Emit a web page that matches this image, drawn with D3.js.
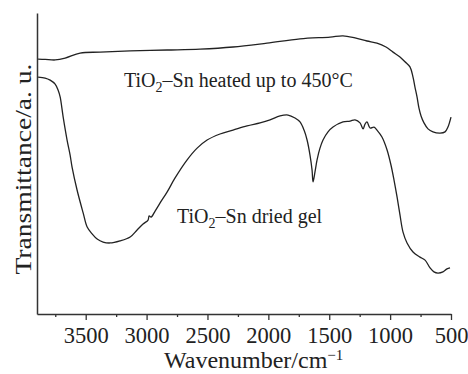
<!DOCTYPE html>
<html><head><meta charset="utf-8">
<script src="https://cdn.jsdelivr.net/npm/d3@7"></script>
<style>
html,body{margin:0;padding:0;background:#fff;}
svg{display:block;}
text{font-family:"Liberation Serif","Times New Roman",serif;fill:#222;}
</style></head>
<body>
<svg id="c" width="468" height="374"></svg>
<script>
// Wavenumber (cm^-1) and transmittance (a.u.)
const heatedWn = [3891,3833,3751,3669,3546,3382,3135,2832,2561,2290,2011,1740,1493,1387,1288,1190,1108,1034,976,919,878,837,812,796,779,763,746,722,689,648,590,549,525,500];
const heatedT  = [84.7,84.6,84.4,85.0,86.7,87.0,87.4,87.7,88.0,88.7,90.0,91.4,92.0,92.4,91.7,90.7,90.0,88.7,87.0,85.4,83.8,82.1,78.7,75.4,72.1,68.4,65.8,63.5,61.5,60.5,60.1,60.5,62.1,65.4];

const gelWn = [3891,3833,3792,3751,3727,3710,3685,3653,3628,3612,3571,3521,3488,3447,3406,3357,3300,3218,3135,3078,3029,2988,2979,2963,2930,2889,2832,2766,2667,2585,2503,2397,2290,2175,2068,1986,1904,1838,1781,1740,1707,1682,1658,1641,1633,1617,1600,1576,1551,1510,1469,1387,1329,1288,1247,1222,1206,1190,1165,1132,1108,1067,1025,993,968,943,919,894,861,812,755,713,672,640,607,566,533,508];
const gelT  = [78.7,78.4,77.7,76.4,74.4,72.1,65.4,57.8,52.8,48.8,41.2,33.6,28.9,26.6,24.9,23.9,23.6,24.3,25.6,27.9,29.9,31.2,32.6,32.2,34.2,36.9,40.5,45.2,51.2,55.1,57.8,59.8,61.1,62.5,63.5,64.5,65.8,66.1,65.1,63.8,61.1,57.8,52.8,47.8,43.9,47.2,51.2,55.1,57.8,60.5,62.1,63.8,64.1,64.5,63.5,61.5,63.1,63.8,61.8,62.1,61.1,58.8,54.5,49.5,44.5,38.9,32.9,27.2,23.6,20.6,18.9,17.9,15.3,14.0,13.6,14.0,15.0,15.3];

const majorTicks = [3500,3000,2500,2000,1500,1000,500];
const minorTicks = [3750,3250,2750,2250,1750,1250,750];
const xTitle = "Wavenumber/cm";
const xTitleSup = "\u22121";
const yTitle = "Transmittance/a. u.";
const label1 = ["TiO", "2", "\u2013Sn heated up to 450\u00b0C"];
const label2 = ["TiO", "2", "\u2013Sn dried gel"];

const svg = d3.select("#c");
const x = d3.scaleLinear().domain([3900, 500]).range([37, 451]);
const y = d3.scaleLinear().domain([0, 100]).range([314, 13]);

// axes
const xAxis = svg.append("g").attr("transform","translate(0,314)")
  .call(d3.axisBottom(x).tickValues(majorTicks).tickFormat(d3.format("d")).tickSize(6).tickSizeOuter(0).tickPadding(7));
xAxis.select(".domain").attr("stroke","#333").attr("stroke-width",1.5);
xAxis.selectAll(".tick line").attr("stroke","#333").attr("stroke-width",1.3);
xAxis.selectAll("text").style("font-family","'Liberation Serif',serif").style("font-size","22.5px").attr("fill","#222");

const xMinor = svg.append("g").attr("transform","translate(0,314)")
  .call(d3.axisBottom(x).tickValues(minorTicks).tickFormat("").tickSize(3).tickSizeOuter(0));
xMinor.select(".domain").remove();
xMinor.selectAll(".tick line").attr("stroke","#333").attr("stroke-width",1.3);

const yAxis = svg.append("g").attr("transform","translate(37,0)")
  .call(d3.axisLeft(y).tickValues([]).tickSizeOuter(0));
yAxis.select(".domain").attr("stroke","#333").attr("stroke-width",1.5);

// curves
const line = d3.line().x(d => x(d[0])).y(d => y(d[1])).curve(d3.curveCatmullRom.alpha(0.5));
svg.append("path").datum(d3.zip(heatedWn, heatedT))
  .attr("d", line).attr("fill","none").attr("stroke","#222").attr("stroke-width",1.3);
svg.append("path").datum(d3.zip(gelWn, gelT))
  .attr("d", line).attr("fill","none").attr("stroke","#222").attr("stroke-width",1.3);

// annotations
function subLabel(px, py, parts){
  const t = svg.append("text").attr("x", px).attr("y", py).style("font-size","20px");
  t.append("tspan").text(parts[0]);
  t.append("tspan").attr("dy", 5).style("font-size","14px").text(parts[1]);
  t.append("tspan").attr("dy", -5).text(parts[2]);
}
subLabel(124, 87, label1);
subLabel(177, 223, label2);

// axis titles
const xt = svg.append("text").attr("x", 164).attr("y", 368).style("font-size","24px");
xt.append("tspan").text(xTitle);
xt.append("tspan").attr("dy", -8).style("font-size","15px").text(xTitleSup);

svg.append("text")
  .attr("transform","translate(31,169) rotate(-90)")
  .attr("text-anchor","middle")
  .style("font-size","23px")
  .attr("textLength", 211).attr("lengthAdjust","spacingAndGlyphs")
  .text(yTitle);
</script>
</body></html>
